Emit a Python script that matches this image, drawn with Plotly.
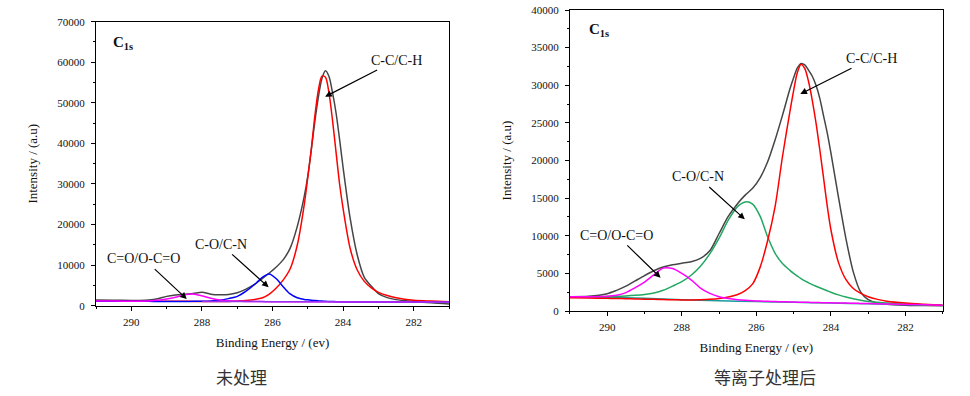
import plotly.graph_objects as go

# ---------------- data ----------------
energy = [291, 290.5, 290, 289.75, 289.5, 289.25, 289, 288.75, 288.5, 288.25, 288,
          287.75, 287.5, 287.25, 287, 286.75, 286.5, 286.3, 286.1, 285.9, 285.7,
          285.5, 285.3, 285.1, 285.0, 284.9, 284.8, 284.7, 284.6, 284.5, 284.4,
          284.3, 284.2, 284.1, 284.0, 283.8, 283.6, 283.4, 283.2, 283.0, 282.75,
          282.5, 282, 281.5, 281]

# untreated sample (left panel)
raw_untreated = [1400, 1350, 1300, 1300, 1380, 1700, 2300, 2650, 2850, 3000, 3300,
                 2850, 2700, 2750, 3200, 4100, 5300, 6600, 8000, 9500, 11300,
                 14200, 19500, 27000, 32000, 38500, 45500, 51500, 56000, 57900, 56500,
                 52500, 47500, 41000, 34000, 21500, 12500, 7000, 4800, 3000, 2000,
                 1500, 1050, 700, 450]
cc_untreated = [1150, 1135, 1120, 1112, 1105, 1097, 1090, 1082, 1075, 1067, 1060,
                1052, 1045, 1060, 1150, 1300, 1550, 1900, 2800, 4300, 6300,
                9100, 14900, 25000, 31700, 38700, 46800, 53200, 56600, 56300, 52400,
                45700, 37800, 30000, 23900, 14100, 8800, 6000, 4400, 3300, 2500,
                1950, 1350, 1150, 1000]
co_untreated = [1100, 1090, 1080, 1075, 1070, 1065, 1060, 1055, 1050, 1070, 1110,
                1180, 1350, 1750, 2300, 3600, 5300, 6900, 7800, 6700, 4700,
                2900, 1950, 1550, 1450, 1350, 1260, 1190, 1140, 1090, 1050,
                1020, 1000, 985, 967, 934, 928, 922, 916, 910, 902,
                895, 880, 865, 850]
coo_untreated = [1150, 1135, 1120, 1115, 1160, 1320, 1645, 2100, 2700, 2900, 2450,
                 1830, 1415, 1200, 1105, 1050, 1015, 1009, 1003, 997, 991,
                 985, 979, 973, 970, 967, 964, 961, 958, 955, 952,
                 949, 946, 943, 940, 934, 928, 922, 916, 910, 902,
                 895, 880, 865, 850]
bg_energy_untreated = [288, 287, 286, 285, 284, 283, 282, 281]
bg_untreated = [1060, 1030, 1000, 970, 940, 910, 880, 850]

# plasma-treated sample (right panel)
raw_plasma = [1900, 1950, 2300, 2750, 3300, 4000, 4700, 5350, 5850, 6150, 6350,
              6550, 7000, 8000, 10300, 12600, 14300, 15400, 16300, 17700, 19800,
              22700, 26000, 29500, 31000, 32300, 32900, 32700, 32000, 31200, 30000,
              28300, 26000, 23700, 21000, 15200, 9700, 5200, 2500, 1500, 1050,
              900, 780, 720, 700]
cc_plasma = [1750, 1720, 1690, 1665, 1640, 1610, 1580, 1550, 1520, 1500, 1480,
             1480, 1500, 1550, 1650, 1850, 2200, 2700, 3600, 5800, 9300,
             13800, 20500, 26500, 29300, 31700, 32800, 32200, 30500, 28000, 25000,
             21500, 17800, 14000, 10800, 6500, 4200, 3000, 2350, 1900, 1550,
             1300, 1050, 900, 780]
co_plasma = [1900, 1900, 1920, 1950, 2000, 2080, 2200, 2400, 2750, 3300, 3900,
             4750, 5950, 7600, 9700, 12100, 13900, 14500, 14200, 12600, 9900,
             7700, 6300, 5400, 5000, 4650, 4300, 4000, 3750, 3500, 3300,
             3100, 2900, 2700, 2500, 2150, 1850, 1620, 1430, 1280, 1150,
             1050, 920, 830, 760]
coo_plasma = [1900, 1900, 1960, 2100, 2450, 3100, 3850, 4800, 5700, 5650, 5000,
              4150, 3050, 2350, 1900, 1650, 1500, 1420, 1360, 1320, 1290,
              1260, 1230, 1200, 1190, 1180, 1170, 1160, 1150, 1140, 1130,
              1120, 1110, 1100, 1090, 1070, 1050, 1030, 1010, 990, 960,
              930, 880, 830, 780]
bg_energy_plasma = [291, 290, 289, 288, 287, 286, 285, 284, 283, 282, 281]
bg_plasma = [1880, 1830, 1690, 1500, 1370, 1250, 1150, 1050, 950, 850, 750]

x_ticks = [290, 288, 286, 284, 282]
captions = ["未处理", "等离子处理后"]
peak_labels = ["C-C/C-H", "C-O/C-N", "C=O/O-C=O"]
x_title = "Binding Energy / (ev)"
y_title = "Intensity / (a.u)"

# ---------------- figure ----------------
SERIF = "Liberation Serif, Times New Roman, serif"
fig = go.Figure()


def add_line(x, y, color, xa, ya, width=1.5):
    fig.add_trace(go.Scatter(x=x, y=y, mode="lines", xaxis=xa, yaxis=ya,
                             line=dict(color=color, width=width, shape="spline", smoothing=0.8),
                             showlegend=False, hoverinfo="skip"))


# left
add_line(energy, raw_untreated, "#454545", "x", "y")
add_line(energy, cc_untreated, "#ff0000", "x", "y")
add_line(energy, co_untreated, "#0000ff", "x", "y")
add_line(energy, coo_untreated, "#ff00ff", "x", "y")
add_line(bg_energy_untreated, bg_untreated, "#9933ee", "x", "y")
# right
add_line(energy, raw_plasma, "#454545", "x2", "y2")
add_line(bg_energy_plasma, bg_plasma, "#1a9a9a", "x2", "y2")
add_line(energy, co_plasma, "#22a862", "x2", "y2")
add_line(energy, cc_plasma, "#ff0000", "x2", "y2")
add_line(energy, coo_plasma, "#ff00ff", "x2", "y2")

tfont = dict(family=SERIF, size=13, color="#111")
xcommon = dict(range=[291, 281], tickvals=x_ticks, ticks="outside", ticklen=4,
               tickwidth=1, tickcolor="#000", showline=True, linecolor="#000",
               linewidth=1, mirror=True, showgrid=False, zeroline=False,
               ticklabelstandoff=2, automargin=False,
               tickfont=dict(family=SERIF, size=11, color="#111"),
               title=dict(text=x_title, font=tfont, standoff=10),
               minor=dict(ticks="outside", ticklen=2, dtick=1, tick0=281, tickcolor="#000"))
ycommon = dict(ticks="outside", ticklen=4, tickwidth=1, tickcolor="#000",
               showline=True, linecolor="#000", linewidth=1, mirror=True,
               showgrid=False, zeroline=False, tickformat="d", ticklabelstandoff=4,
               automargin=False,
               tickfont=dict(family=SERIF, size=11, color="#111"),
               title=dict(text=y_title, font=tfont, standoff=16))

fig.update_layout(
    width=970, height=396, margin=dict(l=0, r=0, t=0, b=0, autoexpand=False),
    paper_bgcolor="white", plot_bgcolor="white",
    xaxis=dict(domain=[0.0990, 0.4629], anchor="y", **xcommon),
    yaxis=dict(domain=[0.2280, 0.9452], anchor="x", range=[0, 70000], dtick=10000,
               minor=dict(ticks="outside", ticklen=2, dtick=5000, tickcolor="#000"), **ycommon),
    xaxis2=dict(domain=[0.5876, 0.9719], anchor="y2", **xcommon),
    yaxis2=dict(domain=[0.2146, 0.9747], anchor="x2", range=[0, 40000], dtick=5000,
                minor=dict(ticks="outside", ticklen=2, dtick=2500, tickcolor="#000"), **ycommon),
)

ann = []
lab_font = dict(family=SERIF, size=14, color="#111")


def arrow_label(text, x, y, ax, ay, xr, yr):
    # text centred at (ax, ay); arrow points to the peak at (x, y)
    ann.append(dict(text=text, x=x, y=y, ax=ax, ay=ay, xref=xr, yref=yr, axref=xr, ayref=yr,
                    showarrow=True, arrowhead=2, arrowsize=1.1, arrowwidth=1.2,
                    arrowcolor="#000", standoff=0, startstandoff=2, font=lab_font,
                    xanchor="center", yanchor="middle"))


# left panel labels
arrow_label(peak_labels[0], 284.51, 51520, 282.49, 60560, "x", "y")
arrow_label(peak_labels[1], 286.11, 4540, 287.47, 15210, "x", "y")
arrow_label(peak_labels[2], 288.43, 1650, 289.65, 11580, "x", "y")
ann.append(dict(text="<b>C<sub>1s</sub></b>", x=290.58, y=64800, xref="x", yref="y",
                xanchor="left", yanchor="middle", showarrow=False,
                font=dict(family=SERIF, size=15, color="#111")))

# right panel labels
arrow_label(peak_labels[0], 284.82, 28840, 282.92, 33580, "x2", "y2")
arrow_label(peak_labels[1], 286.31, 12190, 287.57, 17850, "x2", "y2")
arrow_label(peak_labels[2], 288.57, 4430, 289.75, 10100, "x2", "y2")
ann.append(dict(text="<b>C<sub>1s</sub></b>", x=290.55, y=37400, xref="x2", yref="y2",
                xanchor="left", yanchor="middle", showarrow=False,
                font=dict(family=SERIF, size=15, color="#111")))

# captions
cfont = dict(family="Noto Sans CJK SC, Noto Sans, sans-serif", size=17, color="#333")
ann.append(dict(text=captions[0], x=0.2485, y=0.048, xref="paper", yref="paper",
                xanchor="center", yanchor="middle", showarrow=False, font=cfont))
ann.append(dict(text=captions[1], x=0.7887, y=0.048, xref="paper", yref="paper",
                xanchor="center", yanchor="middle", showarrow=False, font=cfont))

fig.update_layout(annotations=ann)
fig.write_html("out.html", config={"displayModeBar": False},
               post_script="document.body.style.margin='0px';")
